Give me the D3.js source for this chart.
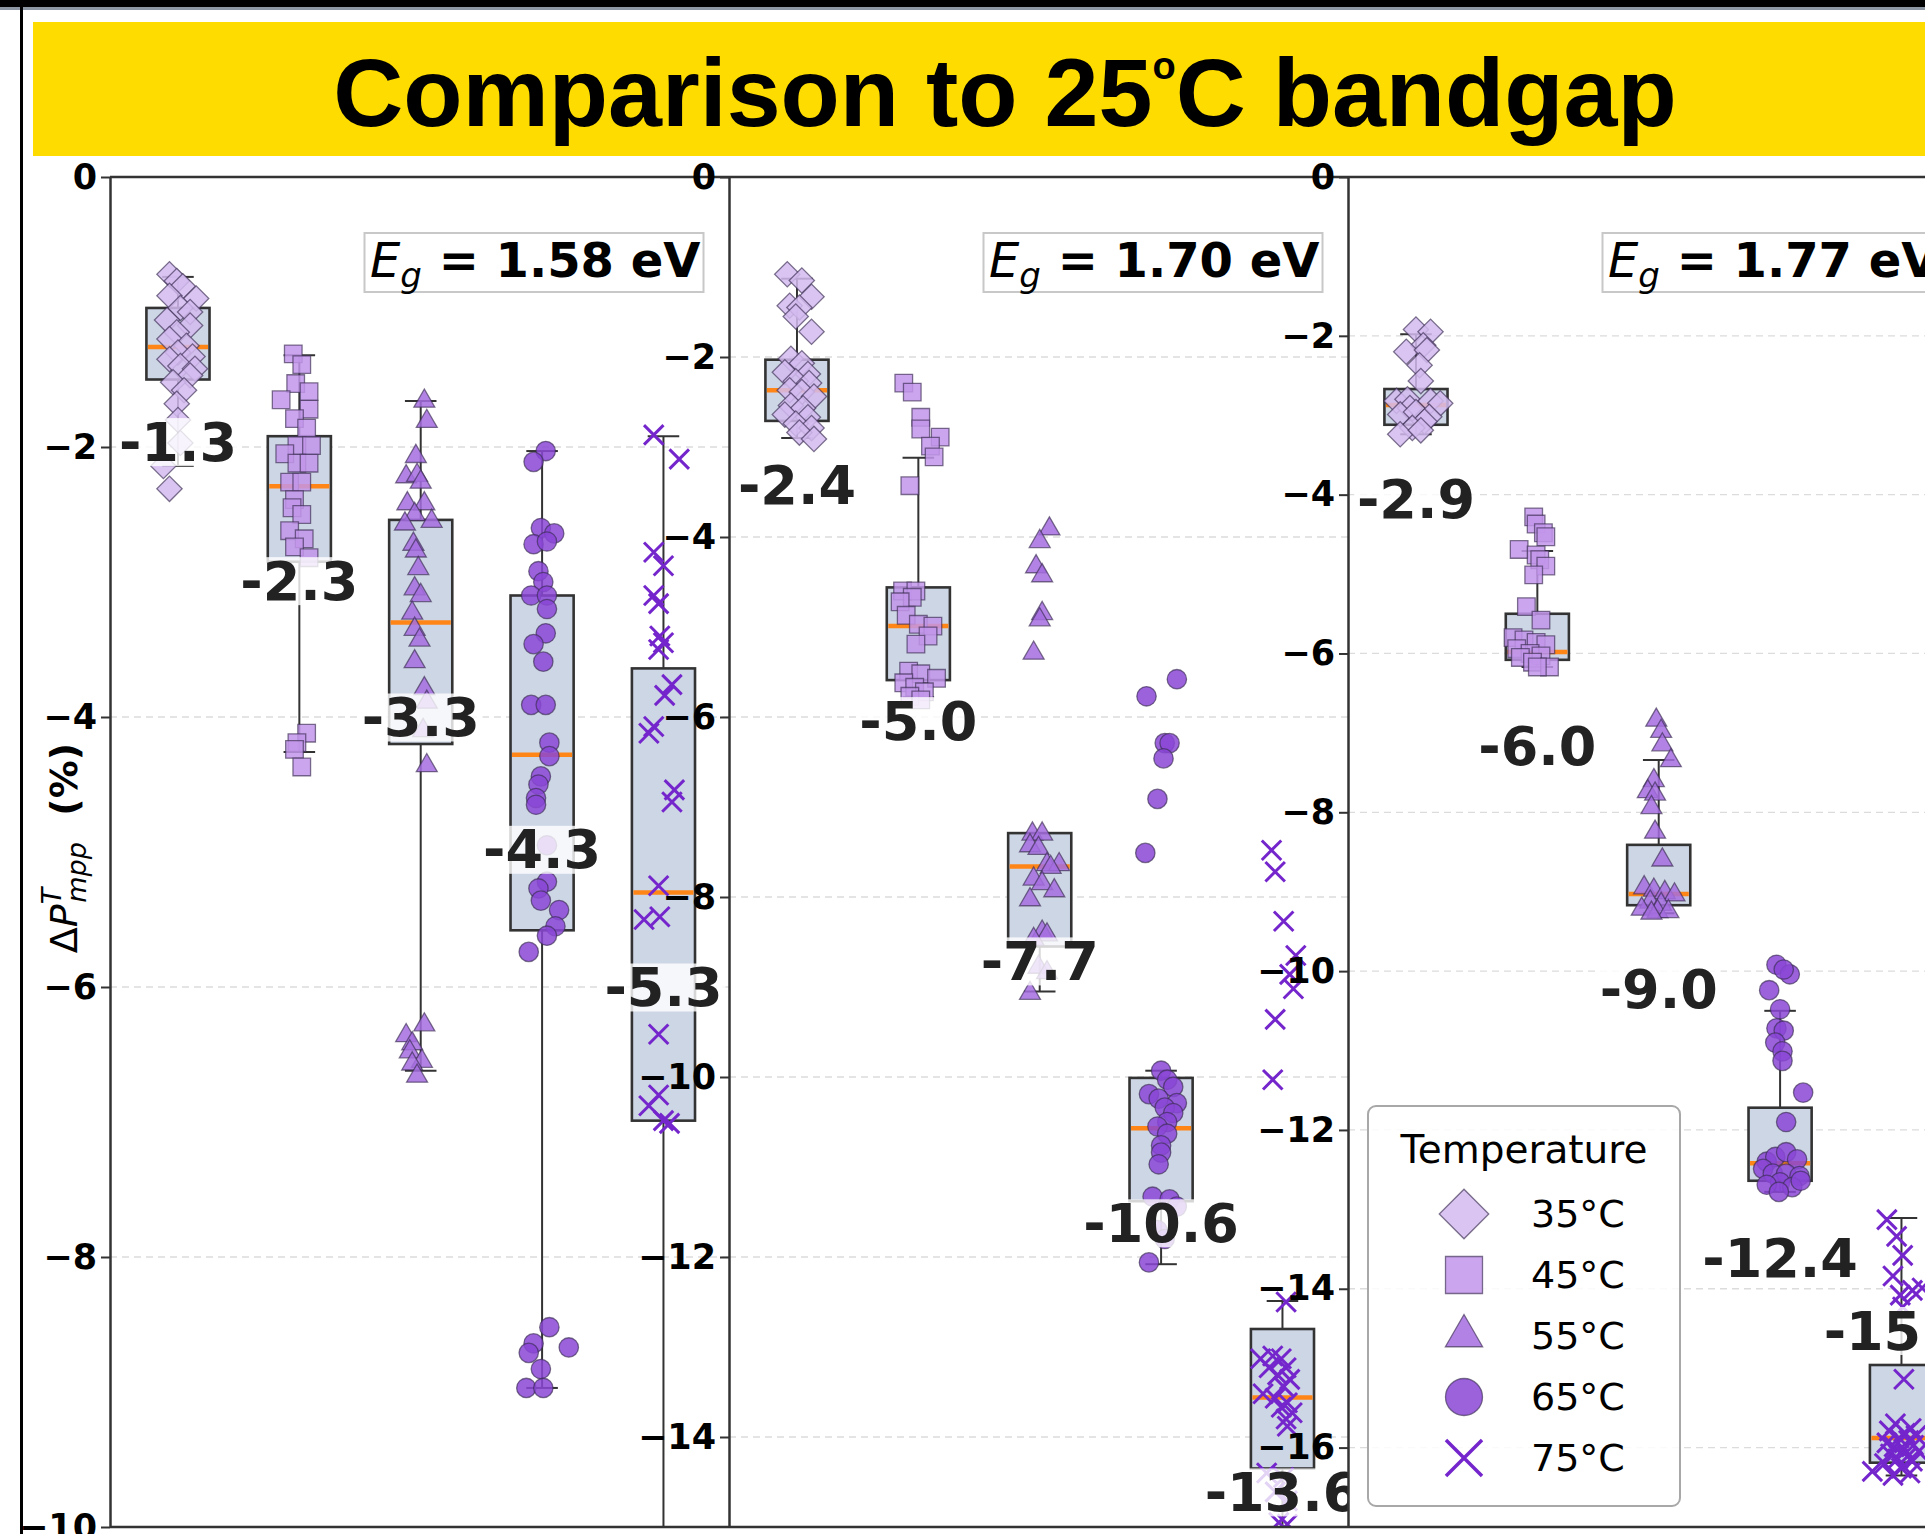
<!DOCTYPE html>
<html>
<head>
<meta charset="utf-8">
<script src="https://cdn.jsdelivr.net/npm/d3@7"></script>
<style>
  body { margin: 0; background: #fff; }
  svg { display: block; }
  text { white-space: pre; }
</style>
</head>
<body>
<div class="canvas"></div>
<script>
// ---- data ----
const temps = ['35°C', '45°C', '55°C', '65°C', '75°C'];
const bandgaps = ['1.58', '1.70', '1.77'];
const yMins = [-10, -15, -17];
const yTicks158 = [0, -2, -4, -6, -8, -10];
const yTicks170 = [0, -2, -4, -6, -8, -10, -12, -14];
const yTicks177 = [0, -2, -4, -6, -8, -10, -12, -14, -16];

// box stats per temperature: [low whisker, q1, median, q3, high whisker]
const boxes158 = [[-2.14,-1.50,-1.26,-0.97,-0.74],[-4.26,-2.85,-2.29,-1.92,-1.32],[-6.62,-4.20,-3.30,-2.54,-1.66],[-8.97,-5.58,-4.28,-3.10,-2.03],[-10.8,-6.99,-5.30,-3.64,-1.92]];
const boxes170 = [[-2.90,-2.71,-2.37,-2.03,-1.13],[-5.78,-5.59,-4.99,-4.56,-3.12],[-9.05,-8.55,-7.66,-7.29,-7.29],[-12.08,-11.38,-10.57,-10.01,-9.93],[-15.3,-14.35,-13.56,-12.80,-12.49]];
const boxes177 = [[-3.24,-3.12,-2.87,-2.67,-1.98],[-6.17,-6.08,-5.98,-5.50,-4.71],[-9.27,-9.17,-9.03,-8.41,-7.34],[-12.78,-12.64,-12.42,-11.72,-10.50],[-16.35,-16.19,-15.88,-14.96,-13.11]];

const labels158 = ['-1.3', '-2.3', '-3.3', '-4.3', '-5.3'];
const labels170 = ['-2.4', '-5.0', '-7.7', '-10.6', '-13.6'];
const labels177 = ['-2.9', '-6.0', '-9.0', '-12.4', '-15.9'];

// individual points: [value, horizontal jitter in category units]
const pts158 = [
  [[-0.72,-0.07],[-0.77,-0.01],[-0.81,0.04],[-0.88,-0.07],[-0.90,0.15],[-0.97,0.02],[-1.00,0.10],[-1.06,-0.09],[-1.10,0.10],[-1.15,-0.01],[-1.20,-0.07],[-1.25,0.07],[-1.30,0.00],[-1.33,0.12],[-1.35,-0.07],[-1.40,0.02],[-1.42,0.14],[-1.47,0.10],[-1.52,-0.04],[-1.58,0.05],[-1.68,-0.01],[-1.80,0.00],[-1.97,0.02],[-2.14,-0.12],[-2.31,-0.07]],
  [[-1.31,-0.05],[-1.39,0.02],[-1.53,-0.03],[-1.59,0.08],[-1.65,-0.15],[-1.72,0.08],[-1.79,-0.04],[-1.86,0.06],[-1.99,-0.02],[-2.05,-0.12],[-1.99,0.10],[-2.12,-0.02],[-2.12,0.08],[-2.26,-0.08],[-2.26,0.02],[-2.39,-0.04],[-2.45,-0.06],[-2.50,0.02],[-2.62,-0.08],[-2.68,0.04],[-2.74,-0.04],[-2.82,0.08],[-4.12,0.06],[-4.19,-0.02],[-4.24,-0.04],[-4.37,0.02]],
  [[-1.66,0.03],[-1.81,0.05],[-2.07,-0.04],[-2.22,-0.12],[-2.21,-0.03],[-2.26,0.00],[-2.42,-0.11],[-2.42,0.03],[-2.50,-0.05],[-2.57,-0.13],[-2.55,0.09],[-2.72,-0.06],[-2.77,-0.04],[-2.90,-0.02],[-3.05,-0.05],[-3.10,0.00],[-3.23,-0.07],[-3.35,-0.05],[-3.43,-0.01],[-3.59,-0.05],[-3.79,0.03],[-3.89,0.05],[-4.10,0.02],[-4.36,0.05],[-6.28,0.03],[-6.36,-0.12],[-6.42,-0.07],[-6.48,-0.09],[-6.55,0.01],[-6.57,-0.07],[-6.66,-0.03]],
  [[-2.03,0.03],[-2.11,-0.07],[-2.60,-0.01],[-2.64,0.10],[-2.72,-0.07],[-2.70,0.04],[-2.92,-0.03],[-3.00,0.01],[-3.10,-0.09],[-3.10,0.04],[-3.20,0.04],[-3.38,0.03],[-3.46,-0.07],[-3.59,0.01],[-3.91,-0.09],[-3.91,0.03],[-4.19,0.06],[-4.29,0.06],[-4.44,-0.01],[-4.50,-0.03],[-4.60,-0.05],[-4.65,-0.05],[-4.95,0.04],[-5.22,0.04],[-5.27,-0.03],[-5.36,-0.01],[-5.43,0.14],[-5.55,0.11],[-5.62,0.04],[-5.74,-0.11],[-8.52,0.06],[-8.64,-0.07],[-8.67,0.22],[-8.71,-0.11],[-8.83,-0.01],[-8.97,-0.13],[-8.97,0.01]],
  [[-1.91,-0.08],[-2.09,0.13],[-2.78,-0.08],[-2.88,0.00],[-3.10,-0.08],[-3.16,-0.04],[-3.40,-0.03],[-3.45,0.00],[-3.50,-0.04],[-3.76,0.07],[-3.84,0.01],[-4.07,-0.08],[-4.12,-0.12],[-4.54,0.09],[-4.63,0.07],[-5.25,-0.04],[-5.50,-0.16],[-5.48,-0.03],[-6.35,-0.04],[-6.80,-0.04],[-6.88,-0.12],[-6.99,0.00],[-7.01,0.05]]
];
const pts170 = [
  [[-1.08,-0.08],[-1.15,0.04],[-1.33,0.12],[-1.43,-0.06],[-1.45,0.02],[-1.55,-0.01],[-1.72,0.12],[-2.02,-0.05],[-2.07,0.04],[-2.17,-0.10],[-2.19,0.09],[-2.27,-0.01],[-2.29,0.10],[-2.37,-0.06],[-2.39,0.04],[-2.44,0.14],[-2.54,-0.05],[-2.57,0.05],[-2.64,-0.10],[-2.67,0.09],[-2.74,-0.01],[-2.79,0.12],[-2.84,0.02],[-2.91,0.14]],
  [[-2.29,-0.12],[-2.39,-0.05],[-2.67,0.02],[-2.80,0.02],[-2.89,0.18],[-2.99,0.10],[-3.11,0.13],[-3.43,-0.07],[-4.60,-0.13],[-4.60,-0.02],[-4.67,-0.05],[-4.72,-0.15],[-4.87,-0.10],[-4.97,0.00],[-4.99,0.12],[-5.10,0.08],[-5.19,-0.02],[-5.49,-0.08],[-5.52,0.02],[-5.57,0.15],[-5.62,-0.12],[-5.67,-0.03],[-5.72,0.05],[-5.77,-0.07],[-5.81,0.02]],
  [[-3.91,0.08],[-4.05,0.00],[-4.33,-0.03],[-4.43,0.02],[-4.85,0.02],[-4.92,0.00],[-5.29,-0.05],[-7.30,-0.06],[-7.30,0.02],[-7.43,-0.08],[-7.46,-0.01],[-7.64,0.06],[-7.64,0.16],[-7.67,0.09],[-7.80,-0.05],[-7.85,0.02],[-8.03,-0.08],[-7.93,0.12],[-8.39,0.02],[-8.42,0.06],[-8.47,-0.05],[-8.78,-0.01],[-8.84,0.06],[-9.07,-0.08]],
  [[-5.77,-0.12],[-5.58,0.13],[-6.29,0.03],[-6.29,0.07],[-6.46,0.02],[-6.91,-0.03],[-7.51,-0.13],[-9.93,0.00],[-10.03,0.05],[-10.11,0.10],[-10.19,-0.10],[-10.24,-0.02],[-10.29,0.13],[-10.34,0.03],[-10.40,0.10],[-10.50,0.05],[-10.55,-0.03],[-10.63,0.05],[-10.76,0.00],[-10.84,0.00],[-10.97,-0.02],[-11.33,-0.07],[-11.36,0.07],[-11.44,0.13],[-11.70,-0.03],[-11.80,0.03],[-12.06,-0.10]],
  [[-7.48,-0.09],[-7.72,-0.06],[-8.27,0.01],[-8.65,0.11],[-8.86,0.06],[-9.02,0.09],[-9.36,-0.06],[-10.03,-0.08],[-12.50,0.03],[-13.13,-0.18],[-13.10,-0.08],[-13.13,-0.01],[-13.23,-0.11],[-13.23,0.03],[-13.31,-0.04],[-13.36,0.06],[-13.44,0.01],[-13.52,-0.16],[-13.57,-0.06],[-13.62,0.04],[-13.67,-0.01],[-13.73,0.08],[-13.80,0.03],[-13.88,0.04],[-14.40,-0.13],[-14.45,0.01],[-14.61,-0.06],[-14.71,0.04],[-14.95,-0.03],[-14.97,0.04]]
];
const pts177 = [
  [[-1.92,0.00],[-1.95,0.12],[-2.12,0.06],[-2.20,-0.08],[-2.18,0.09],[-2.37,0.03],[-2.57,0.04],[-2.82,-0.16],[-2.80,-0.07],[-2.82,0.12],[-2.85,0.20],[-2.91,-0.05],[-2.99,-0.13],[-2.96,0.00],[-3.02,0.11],[-3.08,0.07],[-3.16,-0.03],[-3.24,-0.13],[-3.19,0.04]],
  [[-4.28,-0.03],[-4.37,-0.01],[-4.48,0.05],[-4.53,0.07],[-4.69,-0.15],[-4.76,-0.01],[-4.82,0.02],[-4.90,0.07],[-5.01,-0.03],[-5.41,-0.09],[-5.58,0.03],[-5.80,-0.20],[-5.83,-0.11],[-5.86,-0.01],[-5.89,0.07],[-5.94,-0.17],[-6.00,-0.06],[-6.03,0.03],[-6.05,-0.14],[-6.11,-0.04],[-6.17,0.10],[-6.17,0.00]],
  [[-6.84,-0.02],[-6.98,0.02],[-7.15,0.03],[-7.35,0.10],[-7.60,-0.04],[-7.74,-0.09],[-7.77,-0.03],[-7.94,-0.06],[-8.25,-0.03],[-8.60,0.03],[-8.95,-0.12],[-8.98,-0.04],[-9.01,0.05],[-9.04,0.13],[-9.13,-0.07],[-9.16,0.02],[-9.22,-0.14],[-9.25,-0.01],[-9.25,0.08],[-9.27,-0.06]],
  [[-9.92,-0.03],[-10.04,0.08],[-9.98,0.03],[-10.24,-0.09],[-10.48,0.00],[-10.72,-0.03],[-10.75,0.03],[-10.90,-0.04],[-11.01,0.02],[-11.13,0.02],[-11.53,0.19],[-11.90,0.05],[-12.40,-0.11],[-12.34,-0.04],[-12.28,0.05],[-12.37,0.14],[-12.49,-0.14],[-12.55,-0.06],[-12.55,0.05],[-12.58,0.16],[-12.66,0.00],[-12.69,-0.11],[-12.72,0.10],[-12.78,-0.01],[-12.64,0.17]],
  [[-13.13,-0.12],[-13.34,-0.04],[-13.58,0.01],[-13.84,-0.07],[-14.08,-0.01],[-14.02,0.09],[-14.23,0.01],[-13.99,0.17],[-15.14,0.02],[-15.70,-0.05],[-15.76,0.08],[-15.79,-0.10],[-15.82,0.03],[-15.85,0.12],[-15.88,-0.02],[-15.91,0.06],[-15.94,-0.12],[-15.97,0.10],[-15.99,-0.06],[-16.02,0.02],[-16.05,0.14],[-16.08,-0.09],[-16.11,0.05],[-16.14,-0.03],[-16.17,0.09],[-16.20,-0.14],[-16.26,0.00],[-16.32,0.07],[-16.35,-0.07],[-16.30,-0.24]]
];

const panels = [
  { eg: bandgaps[0], yMin: yMins[0], ticks: yTicks158, boxes: boxes158, labels: labels158, pts: pts158 },
  { eg: bandgaps[1], yMin: yMins[1], ticks: yTicks170, boxes: boxes170, labels: labels170, pts: pts170 },
  { eg: bandgaps[2], yMin: yMins[2], ticks: yTicks177, boxes: boxes177, labels: labels177, pts: pts177 }
];

// ---- layout ----
const W = 1925, H = 1534;
const panelX = [110, 729, 1348];
const panelW = 619;
const plotTop = 177, plotBottom = 1527;
const FONT = 'DejaVu Sans, sans-serif';

const colors = ['#d3bbf0', '#c295ea', '#a46ddf', '#8a46d6', '#7426cc'];
const symX = {
  draw(ctx, size) {
    const h = Math.sqrt(size) / 2;
    ctx.moveTo(-h, -h); ctx.lineTo(h, h);
    ctx.moveTo(-h, h); ctx.lineTo(h, -h);
  }
};
const shapes = [d3.symbolSquare, d3.symbolSquare, d3.symbolTriangle, d3.symbolCircle, symX];
const plotSizes = [320, 310, 190, 295, 380];
const legendSizes = [1225, 1369, 600, 1075, 1300];

function marker(sel, t, size) {
  sel.attr('d', d3.symbol().type(shapes[t]).size(size)());
  if (t === 4) {
    sel.attr('fill', 'none').attr('stroke', colors[t]).attr('stroke-width', size > 500 ? 3.5 : 3);
  } else {
    sel.attr('fill', colors[t]).attr('fill-opacity', 0.85)
      .attr('stroke', '#3a2d52').attr('stroke-opacity', 0.65).attr('stroke-width', 1.3);
  }
  return sel;
}

const svg = d3.select('.canvas')
  .append('svg')
    .attr('width', W)
    .attr('height', H);

svg.append('rect').attr('width', W).attr('height', H).attr('fill', '#fff');

// slide frame
svg.append('rect').attr('x', 0).attr('y', 0).attr('width', W).attr('height', 7).attr('fill', '#000');
svg.append('rect').attr('x', 0).attr('y', 7).attr('width', W).attr('height', 3).attr('fill', '#8d96a3');
svg.append('rect').attr('x', 20).attr('y', 0).attr('width', 3).attr('height', H).attr('fill', '#000');

// ---- panels ----
panels.forEach((p, i) => {
  const x0 = panelX[i];
  const g = svg.append('g');

  const x = d3.scaleLinear().domain([0.44, 5.54]).range([x0, x0 + panelW]);
  const y = d3.scaleLinear().domain([0, p.yMin]).range([plotTop, plotBottom]);

  // background covers overflow of previous panel
  g.append('rect')
    .attr('x', x0).attr('y', plotTop)
    .attr('width', panelW).attr('height', plotBottom - plotTop)
    .attr('fill', '#fff');

  const clipId = 'clip' + i;
  g.append('clipPath').attr('id', clipId)
    .append('rect')
      .attr('x', x0).attr('y', plotTop)
      .attr('width', panelW).attr('height', plotBottom - plotTop);

  // grid
  g.selectAll('line.grid')
    .data(p.ticks.filter(t => t !== 0 && t !== p.yMin))
    .enter().append('line')
      .attr('class', 'grid')
      .attr('x1', x0).attr('x2', x0 + panelW)
      .attr('y1', d => y(d)).attr('y2', d => y(d))
      .attr('stroke', '#dcdcdc')
      .attr('stroke-width', 1.3)
      .attr('stroke-dasharray', '7,5');

  const plot = g.append('g').attr('clip-path', `url(#${clipId})`);
  const hw = 0.26;

  p.boxes.forEach((b, k) => {
    const pos = k + 1;
    const [lo, q1, med, q3, hi] = b;
    const bx = plot.append('g');
    bx.append('line')
      .attr('x1', x(pos)).attr('x2', x(pos))
      .attr('y1', y(q3)).attr('y2', y(hi))
      .attr('stroke', '#333').attr('stroke-width', 2);
    bx.append('line')
      .attr('x1', x(pos)).attr('x2', x(pos))
      .attr('y1', y(q1)).attr('y2', y(lo))
      .attr('stroke', '#333').attr('stroke-width', 2);
    [lo, hi].forEach(v => {
      bx.append('line')
        .attr('x1', x(pos - hw / 2)).attr('x2', x(pos + hw / 2))
        .attr('y1', y(v)).attr('y2', y(v))
        .attr('stroke', '#333').attr('stroke-width', 2);
    });
    bx.append('rect')
      .attr('x', x(pos - hw))
      .attr('y', y(q3))
      .attr('width', x(pos + hw) - x(pos - hw))
      .attr('height', y(q1) - y(q3))
      .attr('fill', '#cdd6e5')
      .attr('stroke', '#333')
      .attr('stroke-width', 2.6);
    bx.append('line')
      .attr('x1', x(pos - hw) + 1.5).attr('x2', x(pos + hw) - 1.5)
      .attr('y1', y(med)).attr('y2', y(med))
      .attr('stroke', '#ff8517').attr('stroke-width', 4.5);
  });

  // points
  p.pts.forEach((list, k) => {
    const pos = k + 1;
    plot.selectAll(null)
      .data(list)
      .enter().append('path')
        .attr('transform', d => `translate(${x(pos + d[1])},${y(d[0])})` + (k === 0 ? ' rotate(45)' : ''))
        .call(sel => marker(sel, k, plotSizes[k]));
  });

  // median labels (below the median, or above the box when that would leave the axes)
  p.labels.forEach((lab, k) => {
    const pos = k + 1;
    let ly = y(p.boxes[k][2]) + 95;
    if (ly > plotBottom) ly = y(p.boxes[k][3]) - 34;
    const lg = g.append('g');
    const txt = lg.append('text')
      .attr('x', x(pos)).attr('y', ly)
      .attr('text-anchor', 'middle')
      .attr('dominant-baseline', 'central')
      .attr('font-family', FONT)
      .attr('font-weight', 'bold')
      .attr('font-size', 54)
      .attr('fill', '#222')
      .text(lab);
    const bb = txt.node().getBBox();
    lg.insert('rect', 'text')
      .attr('x', bb.x - 3).attr('y', ly - 24)
      .attr('width', bb.width + 6).attr('height', 48)
      .attr('fill', '#fff').attr('fill-opacity', 0.8);
  });

  // E_g box
  g.append('rect')
    .attr('x', x0 + 254.5).attr('y', plotTop + 56)
    .attr('width', 339).attr('height', 59)
    .attr('fill', '#fff')
    .attr('stroke', '#c8c8c8').attr('stroke-width', 2);
  const eg = g.append('text')
    .attr('x', x0 + 260).attr('y', plotTop + 100)
    .attr('font-family', FONT)
    .attr('font-size', 48)
    .attr('fill', '#000');
  eg.append('tspan').attr('font-style', 'italic').text('E');
  eg.append('tspan').attr('font-style', 'italic').attr('font-size', 34).attr('dy', 10).text('g');
  eg.append('tspan').attr('font-weight', 'bold').attr('dy', -10).text(` = ${p.eg} eV`);

  // spines
  g.append('line')
    .attr('x1', x0).attr('x2', x0 + panelW)
    .attr('y1', plotTop).attr('y2', plotTop)
    .attr('stroke', '#333').attr('stroke-width', 2.5);
  g.append('line')
    .attr('x1', x0).attr('x2', x0 + panelW)
    .attr('y1', plotBottom).attr('y2', plotBottom)
    .attr('stroke', '#333').attr('stroke-width', 2.5);

  const yAxis = d3.axisLeft(y)
    .tickValues(p.ticks)
    .tickSize(9)
    .tickSizeOuter(0)
    .tickPadding(4)
    .tickFormat(d => d === 0 ? '0' : '\u2212' + Math.abs(d));

  const yAxisGroup = g.append('g')
    .attr('transform', `translate(${x0},0)`)
    .call(yAxis);
  yAxisGroup.select('.domain').attr('stroke', '#333').attr('stroke-width', 2.5);
  yAxisGroup.selectAll('.tick line').attr('stroke', '#333').attr('stroke-width', 2);
  yAxisGroup.selectAll('.tick text')
    .attr('font-family', FONT)
    .attr('font-weight', 'bold')
    .attr('font-size', 35)
    .attr('fill', '#000');
});

// ---- legend ----
const leg = svg.append('g');
leg.append('rect')
  .attr('x', 1368).attr('y', 1106)
  .attr('width', 312).attr('height', 400)
  .attr('rx', 8)
  .attr('fill', '#fff').attr('fill-opacity', 0.85)
  .attr('stroke', '#a8a8a8').attr('stroke-width', 2);
leg.append('text')
  .attr('x', 1524).attr('y', 1163)
  .attr('text-anchor', 'middle')
  .attr('font-family', FONT)
  .attr('font-size', 39)
  .attr('fill', '#000')
  .text('Temperature');
const rowY = d3.scaleLinear().domain([0, 4]).range([1214, 1458]);
temps.forEach((t, k) => {
  leg.append('path')
    .attr('transform', `translate(1464,${rowY(k)})` + (k === 0 ? ' rotate(45)' : ''))
    .call(sel => marker(sel, k, legendSizes[k]));
  leg.append('text')
    .attr('x', 1531).attr('y', rowY(k))
    .attr('dominant-baseline', 'central')
    .attr('font-family', FONT)
    .attr('font-size', 38)
    .attr('fill', '#000')
    .text(t);
});

// ---- y label ----
const yl = svg.append('text')
  .attr('transform', 'translate(77,848) rotate(-90)')
  .attr('text-anchor', 'middle')
  .attr('font-family', FONT)
  .attr('font-size', 38)
  .attr('fill', '#000');
yl.append('tspan').text('Δ');
yl.append('tspan').attr('font-style', 'italic').text('P');
yl.append('tspan').attr('font-style', 'italic').attr('font-size', 27).attr('dy', -16).text('T');
yl.append('tspan').attr('font-style', 'italic').attr('font-size', 27).attr('dx', -15).attr('dy', 25).text('mpp');
yl.append('tspan').attr('font-weight', 'bold').attr('dy', -9).text('  (%)');

// ---- title banner ----
svg.append('rect').attr('x', 33).attr('y', 22).attr('width', W - 33).attr('height', 134).attr('fill', '#fedc00');
const title = svg.append('text')
  .attr('x', 1005).attr('y', 126)
  .attr('text-anchor', 'middle')
  .attr('font-family', 'Liberation Sans, Arial, sans-serif')
  .attr('font-weight', 'bold')
  .attr('font-size', 97)
  .attr('fill', '#000');
title.append('tspan').text('Comparison to 25');
title.append('tspan').attr('font-size', 38).attr('dy', -47).text('o');
title.append('tspan').attr('dy', 47).text('C bandgap');
</script>
</body>
</html>
